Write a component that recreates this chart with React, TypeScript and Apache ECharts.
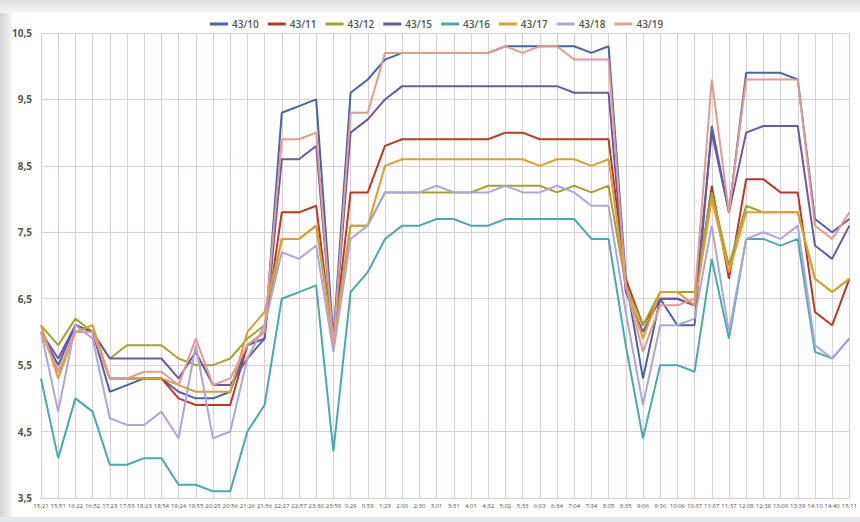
import React, { useEffect, useRef } from "react";
import * as echarts from "echarts";

const categories: string[] = [
  "15:21","15:51","16:22","16:52","17:23","17:53","18:23","18:54","19:24","19:55","20:25","20:56",
  "21:26","21:56","22:27","22:57","23:30","23:59","0:29","0:59","1:29","2:00","2:30","3:01",
  "3:31","4:01","4:32","5:02","5:33","6:03","6:34","7:04","7:34","8:05","8:35","9:06",
  "9:36","10:06","10:37","11:07","11:37","12:08","12:38","13:09","13:39","14:10","14:40","15:11",
];

const s4310: number[] = [6.0,5.5,6.1,6.0,5.1,5.2,5.3,5.3,5.1,5.0,5.0,5.1,5.8,5.9,9.3,9.4,9.5,5.9,9.6,9.8,10.1,10.2,10.2,10.2,10.2,10.2,10.2,10.3,10.3,10.3,10.3,10.3,10.2,10.3,6.8,5.3,6.5,6.1,6.1,9.1,7.8,9.9,9.9,9.9,9.8,7.7,7.5,7.7];
const s4311: number[] = [6.0,5.4,6.0,6.0,5.3,5.3,5.3,5.3,5.0,4.9,4.9,4.9,5.8,6.0,7.8,7.8,7.9,5.8,8.1,8.1,8.8,8.9,8.9,8.9,8.9,8.9,8.9,9.0,9.0,8.9,8.9,8.9,8.9,8.9,6.8,6.1,6.5,6.5,6.4,8.2,6.8,8.3,8.3,8.1,8.1,6.3,6.1,6.8];
const s4312: number[] = [6.1,5.8,6.2,6.0,5.6,5.8,5.8,5.8,5.6,5.5,5.5,5.6,5.9,6.1,7.4,7.4,7.6,5.9,7.6,7.6,8.1,8.1,8.1,8.1,8.1,8.1,8.2,8.2,8.2,8.2,8.1,8.2,8.1,8.2,6.7,6.1,6.6,6.6,6.6,8.1,7.0,7.9,7.8,7.8,7.8,6.8,6.6,6.8];
const s4315: number[] = [6.0,5.6,6.1,6.0,5.6,5.6,5.6,5.6,5.3,5.7,5.2,5.2,5.6,5.9,8.6,8.6,8.8,5.8,9.0,9.2,9.5,9.7,9.7,9.7,9.7,9.7,9.7,9.7,9.7,9.7,9.7,9.6,9.6,9.6,6.6,6.0,6.5,6.5,6.4,9.0,7.8,9.0,9.1,9.1,9.1,7.3,7.1,7.6];
const s4316: number[] = [5.3,4.1,5.0,4.8,4.0,4.0,4.1,4.1,3.7,3.7,3.6,3.6,4.5,4.9,6.5,6.6,6.7,4.2,6.6,6.9,7.4,7.6,7.6,7.7,7.7,7.6,7.6,7.7,7.7,7.7,7.7,7.7,7.4,7.4,5.8,4.4,5.5,5.5,5.4,7.1,5.9,7.4,7.4,7.3,7.4,5.7,5.6,5.9];
const s4317: number[] = [6.1,5.3,6.0,6.1,5.3,5.3,5.3,5.3,5.2,5.1,5.1,5.1,6.0,6.3,7.4,7.4,7.6,5.8,7.6,7.6,8.5,8.6,8.6,8.6,8.6,8.6,8.6,8.6,8.6,8.5,8.6,8.6,8.5,8.6,6.7,5.9,6.6,6.6,6.4,8.0,6.9,7.8,7.8,7.8,7.8,6.8,6.6,6.8];
const s4318: number[] = [6.0,4.8,6.1,5.9,4.7,4.6,4.6,4.8,4.4,5.8,4.4,4.5,5.6,6.1,7.2,7.1,7.3,5.7,7.4,7.6,8.1,8.1,8.1,8.2,8.1,8.1,8.1,8.2,8.1,8.1,8.2,8.1,7.9,7.9,6.3,4.9,6.1,6.1,6.2,7.6,6.0,7.4,7.5,7.4,7.6,5.8,5.6,5.9];
const s4319: number[] = [6.0,5.4,6.0,6.0,5.3,5.3,5.4,5.4,5.2,5.9,5.2,5.3,5.8,6.0,8.9,8.9,9.0,5.8,9.3,9.3,10.2,10.2,10.2,10.2,10.2,10.2,10.2,10.3,10.2,10.3,10.3,10.1,10.1,10.1,6.7,5.7,6.4,6.4,6.5,9.8,7.8,9.8,9.8,9.8,9.8,7.6,7.4,7.8];

const seriesNames: string[] = ["43/10","43/11","43/12","43/15","43/16","43/17","43/18","43/19"];
const seriesValues: number[][] = [s4310, s4311, s4312, s4315, s4316, s4317, s4318, s4319];
const seriesColors: string[] = ["#4a62a8","#b8392c","#a3a332","#6b5a9e","#4aa9ad","#dba032","#aea6d6","#e09c92"];

export default function App() {
  const ref = useRef<HTMLDivElement>(null);
  useEffect(() => {
    if (!ref.current) return;
    const chart = echarts.init(ref.current, undefined, { renderer: "svg" });
    chart.setOption({
      animation: false,
      backgroundColor: "#ffffff",
      textStyle: { fontFamily: "Open Sans, Liberation Sans, sans-serif" },
      graphic: [
        {
          type: "rect",
          shape: { x: 0, y: 0, width: 12, height: 522 },
          style: {
            fill: new echarts.graphic.LinearGradient(0, 0, 1, 0, [
              { offset: 0, color: "#d4d4d4" },
              { offset: 1, color: "#f4f4f4" },
            ]),
          },
          silent: true,
          z: -10,
        },
        {
          type: "rect",
          shape: { x: 0, y: 0, width: 860, height: 13 },
          style: {
            fill: new echarts.graphic.LinearGradient(0, 0, 0, 1, [
              { offset: 0, color: "#dedede" },
              { offset: 1, color: "#f6f6f6" },
            ]),
          },
          silent: true,
          z: -10,
        },
        {
          type: "rect",
          shape: { x: 0, y: 517, width: 860, height: 5 },
          style: { fill: "#e2e9ec" },
          silent: true,
          z: -10,
        },
      ],
      legend: {
        top: 14,
        left: 205,
        itemWidth: 18,
        itemHeight: 3,
        itemGap: 9,
        icon: "rect",
        textStyle: { color: "#555", fontSize: 10, fontWeight: 600, padding: [0, 0, 0, -1] },
        data: seriesNames.map((n, i) => ({ name: n, itemStyle: { color: seriesColors[i] } })),
      },
      grid: { left: 41, right: 8, top: 33, bottom: 24, containLabel: false },
      xAxis: {
        type: "category",
        data: categories,
        boundaryGap: false,
        axisLine: { show: true, lineStyle: { color: "#d8cccc" } },
        axisTick: { show: false },
        axisLabel: { interval: 0, fontSize: 6, color: "#555", margin: 5 },
        splitLine: { show: true, interval: 0, lineStyle: { color: "#dccfcf", width: 1 } },
      },
      yAxis: {
        type: "value",
        min: 3.5,
        max: 10.5,
        interval: 1,
        axisLine: { show: false },
        axisTick: { show: false },
        axisLabel: {
          fontSize: 10,
          color: "#555",
          fontWeight: "bold",
          margin: 9,
          formatter: (v: number) => v.toFixed(1).replace(".", ","),
        },
        splitLine: { show: true, lineStyle: { color: "#dccfcf", width: 1 } },
      },
      series: seriesNames.map((n, i) => ({
        name: n,
        type: "line",
        data: seriesValues[i],
        symbol: "none",
        lineStyle: { color: seriesColors[i], width: 2 },
        itemStyle: { color: seriesColors[i] },
      })),
    });
    return () => chart.dispose();
  }, []);
  return (
    <div
      ref={ref}
      style={{ position: "absolute", left: 0, top: 0, width: 860, height: 522 }}
    />
  );
}
